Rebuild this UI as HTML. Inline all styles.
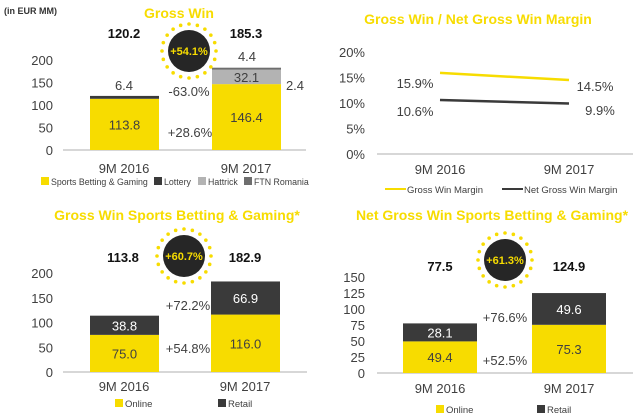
<!DOCTYPE html>
<html><head><meta charset="utf-8"><style>
body{margin:0;width:640px;height:420px;background:#fff;overflow:hidden;font-family:"Liberation Sans",sans-serif}
svg{display:block}
</style></head><body>
<svg id="c" width="640" height="420" xmlns="http://www.w3.org/2000/svg"></svg>
<script>
// Panel 1: Gross Win
const gwCats=["9M 2016","9M 2017"];
const gwSports=[113.8,146.4];
const gwLottery=[6.4,0];
const gwHattrick=[0,32.1];
const gwFtn=[0,4.4];
const gwTotals=["120.2","185.3"];
const gwTicks=[0,50,100,150,200];
// Panel 2: margins
const mCats=["9M 2016","9M 2017"];
const mGross=[15.9,14.5];
const mNet=[10.6,9.9];
const mTicks=[0,5,10,15,20];
// Panel 3
const sbOnline=[75.0,116.0];
const sbRetail=[38.8,66.9];
const sbTotals=["113.8","182.9"];
const sbTicks=[0,50,100,150,200];
// Panel 4
const ngOnline=[49.4,75.3];
const ngRetail=[28.1,49.6];
const ngTotals=["77.5","124.9"];
const ngTicks=[0,25,50,75,100,125,150];

const S="http://www.w3.org/2000/svg", svg=document.getElementById('c');
const Y="#f7dc00",D="#3a3a3a",G="#b3b3b3",M="#6e6e6e",T="#404040";
function el(tag,a,p){const e=document.createElementNS(S,tag);for(const k in a)e.setAttribute(k,a[k]);(p||svg).appendChild(e);return e;}
function tx(x,y,s,o){o=o||{};const e=el('text',{x:x,y:y,'font-size':o.fs||13,fill:o.fill||T,'text-anchor':o.a||'middle','font-weight':o.w||'normal'});e.textContent=s;


return e;}
function badge(cx,cy,s){const g=el('g',{});


for(let i=0;i<20;i++){const a=i*Math.PI/10;el('circle',{cx:cx+27*Math.cos(a),cy:cy+27*Math.sin(a),r:1.8,fill:Y},g);}
el('circle',{cx:cx,cy:cy,r:21,fill:"#262626"},g);
const t=tx(cx,cy+4,s,{fs:11,fill:Y,w:'bold',n:'growth-value'});g.appendChild(t);}
function axis(x0,x1,y0,yTop,max,ticks,lx,fmt){
 const sy=v=>y0-(y0-yTop)*v/max;
 el('line',{x1:x0,x2:x1,y1:y0,y2:y0,stroke:"#bfbfbf","stroke-width":1.3});
 ticks.forEach(t=>tx(lx,sy(t)+5,fmt?fmt(t):String(t),{fs:13,a:'end',n:'y-tick'}));
 return sy;}
function stacked(sy,xs,w,series,cols,labels,labCols){
 xs.forEach((x,i)=>{let base=0;series.forEach((s,j)=>{const v=s[i];if(v<=0)return;
  const r=el('rect',{x:x,y:sy(base+v),width:w,height:sy(base)-sy(base+v),fill:cols[j]});
  
  
  if(labels[j]){const ym=(sy(base)+sy(base+v))/2+5;tx(x+w/2,ym,v.toFixed(1),{fs:13,fill:labCols[j],n:'segment-value'});}
  base+=v;});});}
function legendBox(x,y,c,s,fs){el('rect',{x:x,y:y-8,width:8,height:8,fill:c});tx(x+10,y,s,{fs:fs||9.5,a:'start',n:'legend-entry'});}

tx(4,14,"(in EUR MM)",{fs:9,a:'start',fill:"#333",w:'bold',n:'unit-label'});

// Panel 1
tx(179,18,"Gross Win",{fs:14,fill:Y,w:'bold',n:'chart-title'});
let sy=axis(63,306,150,60,200,gwTicks,53);
stacked(sy,[90,212],69,[gwSports,gwLottery,gwHattrick,gwFtn],[Y,D,G,M],[true,false,true,false],[T,T,T,T]);
tx(124,90,gwLottery[0].toFixed(1),{n:'segment-value'});
tx(247,61,gwFtn[1].toFixed(1),{n:'segment-value'});
tx(295,90,"2.4",{n:'segment-value'});
tx(189,96,"-63.0%",{n:'growth-value'});
tx(190,137,"+28.6%",{n:'growth-value'});
gwTotals.forEach((t,i)=>tx([124,246][i],38,t,{fs:13,fill:"#111",w:'bold',n:'total-value'}));
gwCats.forEach((c,i)=>tx([124,246][i],173,c,{n:'x-tick'}));
legendBox(41,185,Y,"Sports Betting & Gaming",8.8);legendBox(154,185,D,"Lottery",8.8);legendBox(198,185,G,"Hattrick",8.8);legendBox(244,185,M,"FTN Romania",8.8);
badge(189,51,"+54.1%");

// Panel 2
tx(478,24,"Gross Win / Net Gross Win Margin",{fs:14,fill:Y,w:'bold',n:'chart-title'});
const sy2=axis(377,633,154,52,20,mTicks,365,t=>t+"%");
const mx=[440,569];
el('polyline',{points:mx.map((x,i)=>x+","+sy2(mGross[i])).join(" "),fill:"none",stroke:Y,"stroke-width":2.5});
el('polyline',{points:mx.map((x,i)=>x+","+sy2(mNet[i])).join(" "),fill:"none",stroke:D,"stroke-width":2.5});
tx(415,88,mGross[0]+"%",{n:'point-value'});tx(595,91,mGross[1]+"%",{n:'point-value'});
tx(415,116,mNet[0]+"%",{n:'point-value'});tx(600,115,mNet[1]+"%",{n:'point-value'});
mCats.forEach((c,i)=>tx(mx[i],174,c,{n:'x-tick'}));
el('line',{x1:385,x2:406,y1:189,y2:189,stroke:Y,"stroke-width":2});tx(407,193,"Gross Win Margin",{fs:9.5,a:'start',n:'legend-entry'});
el('line',{x1:502,x2:523,y1:189,y2:189,stroke:D,"stroke-width":2});tx(524,193,"Net Gross Win Margin",{fs:9.5,a:'start',n:'legend-entry'});

// Panel 3
tx(177,220,"Gross Win Sports Betting & Gaming*",{fs:14,fill:Y,w:'bold',n:'chart-title'});
const sy3=axis(63,307,372,273,200,sbTicks,53);
stacked(sy3,[90,211],69,[sbOnline,sbRetail],[Y,D],[true,true],[T,"#fff"]);
tx(188,310,"+72.2%",{n:'growth-value'});tx(188,353,"+54.8%",{n:'growth-value'});
sbTotals.forEach((t,i)=>tx([123,245][i],262,t,{fs:13,fill:"#111",w:'bold',n:'total-value'}));
gwCats.forEach((c,i)=>tx([124,245][i],391,c,{n:'x-tick'}));
legendBox(115,407,Y,"Online");legendBox(218,407,D,"Retail");
badge(184,256,"+60.7%");

// Panel 4
tx(492,220,"Net Gross Win Sports Betting & Gaming*",{fs:14,fill:Y,w:'bold',n:'chart-title'});
const sy4=axis(377,633,373,277,150,ngTicks,365);
stacked(sy4,[403,532],74,[ngOnline,ngRetail],[Y,D],[true,true],[T,"#fff"]);
tx(505,322,"+76.6%",{n:'growth-value'});tx(505,365,"+52.5%",{n:'growth-value'});
ngTotals.forEach((t,i)=>tx([440,569][i],271,t,{fs:13,fill:"#111",w:'bold',n:'total-value'}));
gwCats.forEach((c,i)=>tx([440,569][i],393,c,{n:'x-tick'}));
legendBox(436,413,Y,"Online");legendBox(537,413,D,"Retail");
badge(505,260,"+61.3%");
</script>
</body></html>
